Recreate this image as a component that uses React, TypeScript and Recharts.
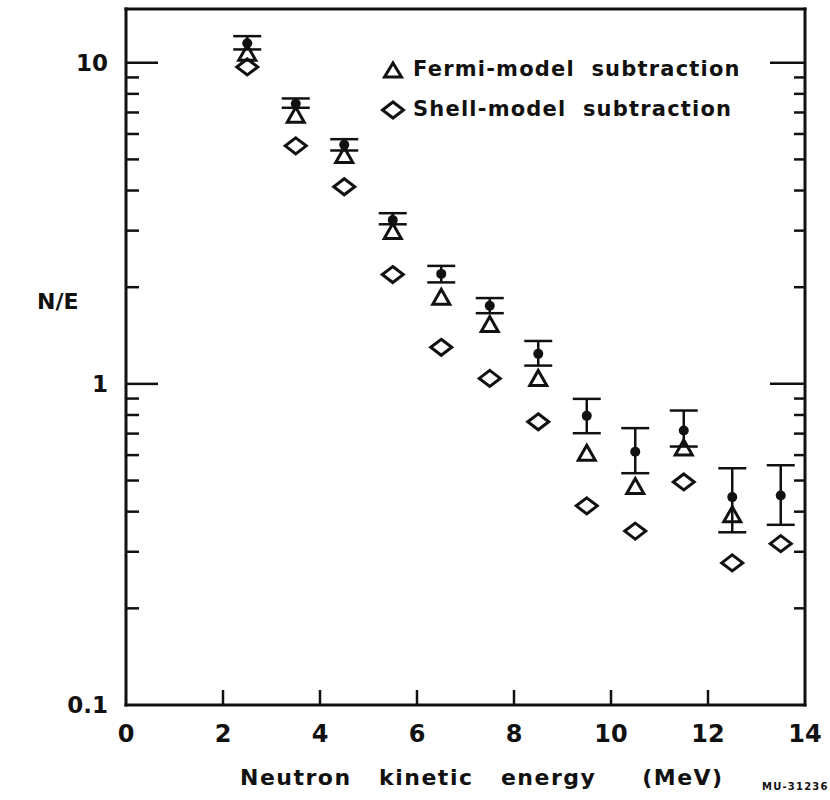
import React from "react"
import { ScatterChart, Scatter, XAxis, YAxis, ErrorBar } from "recharts"

// neutron kinetic energy bins (MeV)
const energies = [2.5, 3.5, 4.5, 5.5, 6.5, 7.5, 8.5, 9.5, 10.5, 11.5, 12.5, 13.5]
// measured N/E with error limits
const measured = [11.5, 7.45, 5.55, 3.24, 2.2, 1.75, 1.24, 0.795, 0.615, 0.716, 0.444, 0.449]
const measuredHigh = [12.1, 7.74, 5.78, 3.4, 2.33, 1.85, 1.36, 0.898, 0.728, 0.826, 0.546, 0.558]
const measuredLow = [11.0, 7.24, 5.33, 3.14, 2.07, 1.66, 1.14, 0.702, 0.527, 0.638, 0.345, 0.364]
// background-subtracted values
const fermi = [10.7, 6.86, 5.14, 2.98, 1.86, 1.53, 1.04, 0.608, 0.479, 0.631, 0.391, null]
const shell = [9.7, 5.51, 4.11, 2.19, 1.3, 1.04, 0.762, 0.417, 0.348, 0.495, 0.277, 0.318]

const xTicks = [0, 2, 4, 6, 8, 10, 12, 14]
const yMajor = [0.1, 1, 10]
const yTicks = [0.1, 0.2, 0.3, 0.4, 0.5, 0.6, 0.7, 0.8, 0.9, 1, 2, 3, 4, 5, 6, 7, 8, 9, 10]
const yLabels: Record<number, string> = { 0.1: "0.1", 1: "1", 10: "10" }

const measuredData = energies.map((e, i) => ({
  e,
  v: measured[i],
  err: [measured[i] - measuredLow[i], measuredHigh[i] - measured[i]],
}))
const fermiData = energies.map((e, i) => ({ e, v: fermi[i] })).filter((d) => d.v != null)
const shellData = energies.map((e, i) => ({ e, v: shell[i] }))

const FONT = "'DejaVu Sans', sans-serif"
const INK = "#111"
const Y_GAP = 18
const X_GAP = 18

const axisLine = { stroke: INK, strokeWidth: 3, strokeLinecap: "square" as const }

function LeftTick(props: any) {
  const { x, y, payload } = props
  const v = payload.value
  const major = yMajor.includes(v)
  return (
    <g>
      {v > 0.1 && (
        <line x1={x + Y_GAP} x2={x + Y_GAP + (major ? 32 : 13)} y1={y} y2={y} stroke={INK} strokeWidth={2.5} />
      )}
      {major && (
        <text x={x} y={y} dy="0.36em" textAnchor="end" fontFamily={FONT} fontWeight="bold" fontSize={23} fill={INK}>
          {yLabels[v]}
        </text>
      )}
    </g>
  )
}

function RightTick(props: any) {
  const { x, y, payload } = props
  const v = payload.value
  if (v <= 0.1) return <g />
  const major = yMajor.includes(v)
  return <line x1={x} x2={x - (major ? 35 : 11)} y1={y} y2={y} stroke={INK} strokeWidth={2.5} />
}

function BottomTick(props: any) {
  const { x, y, payload } = props
  const v = payload.value
  const inner = v > 0 && v < 14
  return (
    <g>
      {inner && <line x1={x} x2={x} y1={y - X_GAP} y2={y - X_GAP - 15} stroke={INK} strokeWidth={2.5} />}
      <text x={x} y={y} dy="0.78em" textAnchor="middle" fontFamily={FONT} fontWeight="bold" fontSize={24} fill={INK}>
        {v}
      </text>
    </g>
  )
}

function TopTick(props: any) {
  const { x, y, payload } = props
  const v = payload.value
  if (v <= 0 || v >= 14) return <g />
  return <line x1={x} x2={x} y1={y} y2={y + 17} stroke={INK} strokeWidth={2.5} />
}

function Triangle(props: any) {
  const { cx, cy } = props
  if (cx == null || cy == null) return <g />
  return (
    <polygon
      points={`${cx},${cy - 8} ${cx + 8.5},${cy + 7} ${cx - 8.5},${cy + 7}`}
      fill="none"
      stroke={INK}
      strokeWidth={3}
      strokeLinejoin="miter"
    />
  )
}

function Diamond(props: any) {
  const { cx, cy } = props
  if (cx == null || cy == null) return <g />
  return (
    <polygon
      points={`${cx},${cy - 8} ${cx + 10.5},${cy} ${cx},${cy + 8} ${cx - 10.5},${cy}`}
      fill="none"
      stroke={INK}
      strokeWidth={3}
    />
  )
}

function Dot(props: any) {
  const { cx, cy } = props
  if (cx == null || cy == null) return <g />
  return <circle cx={cx} cy={cy} r={5} fill={INK} />
}

const textStyle: React.CSSProperties = {
  position: "absolute",
  fontFamily: FONT,
  fontWeight: "bold",
  color: INK,
  whiteSpace: "pre",
  lineHeight: 1,
}

export default function App() {
  return (
    <div style={{ position: "absolute", left: 0, top: 0, width: 830, height: 800, background: "#fff" }}>
      <ScatterChart width={830} height={800} margin={{ top: 8, right: 24, bottom: 55, left: 66 }}>
        <XAxis
          dataKey="e"
          type="number"
          domain={[0, 14]}
          ticks={xTicks}
          interval={0}
          height={40}
          tickSize={0}
          tickMargin={X_GAP}
          tick={<BottomTick />}
          axisLine={axisLine}
          tickLine={false}
        />
        <XAxis
          xAxisId="top"
          orientation="top"
          dataKey="e"
          type="number"
          domain={[0, 14]}
          ticks={xTicks}
          interval={0}
          height={1}
          tickSize={0}
          tickMargin={0}
          tick={<TopTick />}
          axisLine={axisLine}
          tickLine={false}
        />
        <YAxis
          dataKey="v"
          type="number"
          scale="log"
          domain={[0.1, 14.7]}
          allowDataOverflow
          ticks={yTicks}
          interval={0}
          width={60}
          tickSize={0}
          tickMargin={Y_GAP}
          tick={<LeftTick />}
          axisLine={axisLine}
          tickLine={false}
        />
        <YAxis
          yAxisId="right"
          orientation="right"
          dataKey="v"
          type="number"
          scale="log"
          domain={[0.1, 14.7]}
          allowDataOverflow
          ticks={yTicks}
          interval={0}
          width={1}
          tickSize={0}
          tickMargin={0}
          tick={<RightTick />}
          axisLine={axisLine}
          tickLine={false}
        />
        <Scatter data={shellData} dataKey="v" shape={<Diamond />} isAnimationActive={false} />
        <Scatter data={fermiData} dataKey="v" shape={<Triangle />} isAnimationActive={false} />
        <Scatter data={measuredData} dataKey="v" shape={<Dot />} isAnimationActive={false}>
          <ErrorBar dataKey="err" direction="y" width={14} stroke={INK} strokeWidth={2.5} />
        </Scatter>
      </ScatterChart>

      {/* legend */}
      <svg style={{ position: "absolute", left: 380, top: 58 }} width={26} height={64}>
        <polygon points="13,5 21.5,19 4.5,19" fill="none" stroke={INK} strokeWidth={3} />
        <polygon points="13,44 23.5,52 13,60 2.5,52" fill="none" stroke={INK} strokeWidth={3} />
      </svg>
      <div style={{ ...textStyle, left: 413, top: 59, fontSize: 21, letterSpacing: 1.2, wordSpacing: 8 }}>
        Fermi-model subtraction
      </div>
      <div style={{ ...textStyle, left: 413, top: 99, fontSize: 21, letterSpacing: 1.2, wordSpacing: 8 }}>
        Shell-model subtraction
      </div>

      <div style={{ ...textStyle, left: 37, top: 291, fontSize: 22 }}>N/E</div>
      <div style={{ ...textStyle, left: 240, top: 767, fontSize: 22, letterSpacing: 1.5 }}>
        {"Neutron   kinetic   energy     (MeV)"}
      </div>
      <div style={{ ...textStyle, left: 762, top: 782, fontSize: 10, letterSpacing: 1.2 }}>MU-31236</div>
    </div>
  )
}
